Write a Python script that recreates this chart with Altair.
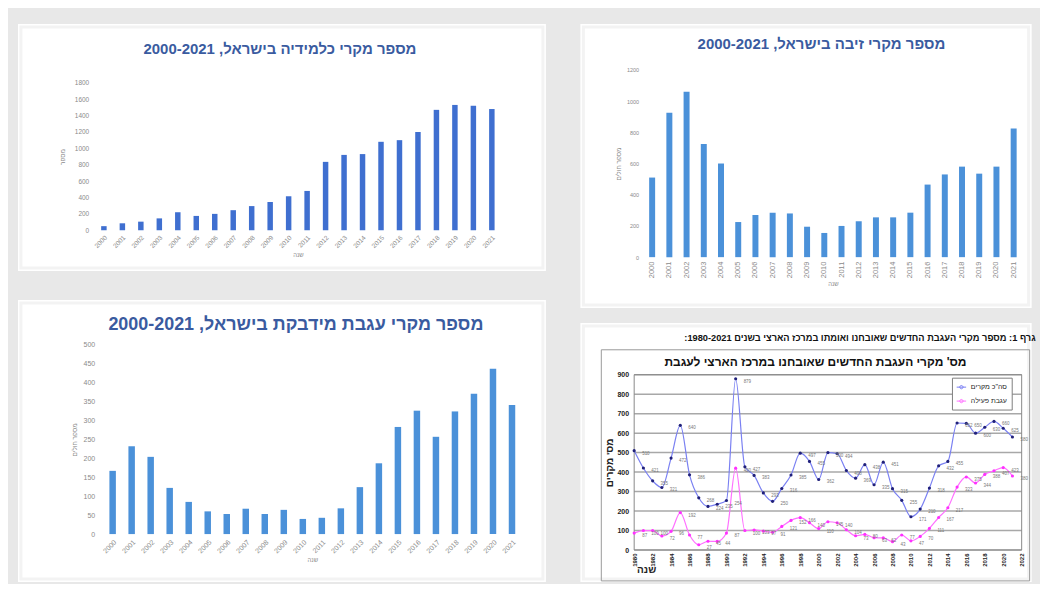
import altair as alt
import pandas as pd

FONT = "Liberation Sans"
RLE, PDF = "\u202B", "\u202C"

# ---------------- data ----------------
years = [str(y) for y in range(2000, 2022)]
chlamydia_cases = [50, 85, 105, 145, 220, 175, 200, 245, 295, 345, 415, 480,
                   835, 920, 930, 1080, 1100, 1200, 1470, 1530, 1520, 1480]
gonorrhea_cases = [510, 925, 1060, 725, 600, 225, 270, 285, 280, 195, 155, 200,
                   230, 255, 255, 285, 465, 530, 580, 535, 580, 825]
syphilis_cases = [167, 232, 204, 122, 85, 60, 53, 67, 53, 64, 40, 43,
                  68, 124, 187, 283, 326, 257, 324, 371, 437, 341]

line_years = list(range(1980, 2022))
total_cases = [510, 421, 355, 321, 472, 640, 386, 268, 224, 235,
               254, 879, 427, 383, 293, 250, 316, 385, 497, 455,
               362, 500, 494, 408, 369, 438, 335, 451, 315, 255,
               171, 210, 318, 432, 455, 652, 650, 600, 630, 660, 625, 580]
active_syphilis = [87, 100, 100, 72, 96, 192, 77, 27, 45, 44,
                   87, 420, 100, 103, 97, 91, 121, 152, 166, 140,
                   110, 145, 140, 104, 73, 80, 63, 62, 43, 77,
                   47, 70, 111, 167, 217, 323, 375, 344, 388, 407, 423, 380]
line_series = ['סה"כ מקרים', "עגבת פעילה"]
line_ticks_y = list(range(0, 1000, 100))
line_ticks_x = list(range(1980, 2023, 2))

title_chlamydia = "מספר מקרי כלמידיה בישראל, 2000-2021"
title_gonorrhea = "מספר מקרי זיבה בישראל, 2000-2021"
title_syphilis = "מספר מקרי עגבת מידבקת בישראל, 2000-2021"
title_line = "מס' מקרי העגבת החדשים שאובחנו במרכז הארצי לעגבת"
caption_line = "גרף 1: מספר מקרי העגבת החדשים שאובחנו ואומתו במרכז הארצי בשנים 1980-2021:"

one = pd.DataFrame({"k": [0]})


def background(o, rect):
    gx, gy = o
    x0, y0, x1, y1 = rect
    bg = alt.Chart(one).mark_rect(fill="white").encode(
        x=alt.value(x0 - gx), x2=alt.value(x1 - gx), y=alt.value(y0 - gy), y2=alt.value(y1 - gy))
    inner = alt.Chart(one).mark_rect(fillOpacity=0, stroke="#f3f3f3", strokeWidth=3).encode(
        x=alt.value(x0 - gx + 3), x2=alt.value(x1 - gx - 3),
        y=alt.value(y0 - gy + 3), y2=alt.value(y1 - gy - 3))
    return [bg, inner]


def text_mark(o, text, x, y, size, color, weight="bold", align="center"):
    return alt.Chart(one).mark_text(
        font=FONT, fontSize=size, fontWeight=weight, color=color, align=align,
        baseline="middle").encode(x=alt.value(x - o[0]), y=alt.value(y - o[1]),
                                  text=alt.value(RLE + text + PDF))


def bar_panel(values, o, size, band, yspan, rect, ymax, ystep, color, bar_w, label_angle,
              xlab_size, ylab_size, ytitle, ylabpad, ytitlepad, title, tpos, tsize, xtitlepad):
    gx, gy = o
    gw, gh = size
    df = pd.DataFrame({"year": years, "cases": values})
    step = (band[1] - band[0]) / len(years)
    pi = 1 - bar_w / step
    bars = alt.Chart(df).mark_bar(color=color).encode(
        x=alt.X("year:O",
                scale=alt.Scale(paddingInner=pi, paddingOuter=pi / 2,
                                range=[band[0] - gx, band[1] - gx]),
                axis=alt.Axis(labelAngle=label_angle, domain=False, ticks=False, grid=False,
                              labelFont=FONT, labelFontSize=xlab_size, labelColor="#8a8a8a",
                              labelPadding=4, title="שנה", titleFont=FONT, titleFontSize=6,
                              titleFontWeight="normal", titleColor="#8a8a8a",
                              titlePadding=xtitlepad, zindex=1)),
        y=alt.Y("cases:Q",
                scale=alt.Scale(domain=[0, ymax], nice=False,
                                range=[yspan[0] - gy, yspan[1] - gy]),
                axis=alt.Axis(values=list(range(0, ymax + 1, ystep)), format="d", domain=False,
                              ticks=False, grid=False, labelFont=FONT, labelFontSize=ylab_size,
                              labelColor="#8a8a8a", labelPadding=ylabpad, title=ytitle,
                              titleFont=FONT, titleFontSize=6.5, titleFontWeight="normal",
                              titleColor="#8a8a8a", titlePadding=ytitlepad, zindex=1)),
    )
    ttl = text_mark(o, title, tpos[0], tpos[1], tsize, "#3a5ba0")
    return alt.layer(*background(o, rect), bars, ttl).properties(width=gw, height=gh)


# geometry in page pixels: group origin, group size, band range, y range, panel rect
tl = bar_panel(chlamydia_cases, (94, 68), (408, 161), (94, 502), (229, 81), (17, 22, 547, 270),
               1800, 200, "#3f6fd0", 5.5, -45, 6.5, 6.5, "מספר", 6, 9,
               title_chlamydia, (280, 47), 15, 3)
bl = bar_panel(syphilis_cases, (94, 342), (428.5, 190), (102.5, 522.5), (532, 342),
               (17, 297, 547, 580), 500, 50, "#4b91d9", 6.5, -45, 7, 7, "מספר חולים", 0, 6,
               title_syphilis, (296, 322), 18, 3)
tr = bar_panel(gonorrhea_cases, (643.4, 68), (380.2, 188), (643.4, 1023.6), (256, 68),
               (580, 22, 1033, 307), 1200, 200, "#4b91d9", 6, -90, 7.5, 5.5, "מספר חולים", 5, 5,
               title_gonorrhea, (822, 42), 15, 3)

# ---------------- line chart panel ----------------
O = (643.4, 372)
LW, LH = 1023 - O[0], 176
n = len(line_years)
line_df = pd.DataFrame({
    "year": line_years * 2,
    "value": total_cases + active_syphilis,
    "series": [line_series[0]] * n + [line_series[1]] * n,
})
grid_df = pd.DataFrame({"value": line_ticks_y})
x_left = 634 - O[0]

X = alt.X("year:Q", scale=alt.Scale(domain=[1980, 2022], nice=False, zero=False,
                                    range=[x_left, LW]),
          axis=alt.Axis(values=line_ticks_x, format="d", labelAngle=-90, labelFont=FONT,
                        labelFontSize=6, labelFontWeight="bold", labelColor="#222",
                        domain=False, ticks=False, grid=False, labelPadding=3,
                        title="שנה", titleFont=FONT, titleFontSize=10, titleFontWeight="bold",
                        titleColor="#222", titleX=646 - O[0], titleY=20, titleAlign="center",
                        titleBaseline="middle", zindex=1))
Y = alt.Y("value:Q", scale=alt.Scale(domain=[0, 900], nice=False),
          axis=alt.Axis(values=line_ticks_y, labelFont=FONT, labelFontSize=7,
                        labelFontWeight="bold", labelColor="#222", domain=False, ticks=False,
                        grid=False, labelPadding=15, title="מס' מקרים", titleFont=FONT,
                        titleFontSize=10, titleFontWeight="bold", titleColor="#222",
                        titlePadding=2, zindex=1))

frame = alt.Chart(one).mark_rect(fillOpacity=0, stroke="#9a9a9a", strokeWidth=1).encode(
    x=alt.value(601 - O[0]), x2=alt.value(1031 - O[0]), y=alt.value(347 - O[1]),
    y2=alt.value(579 - O[1]))
grid = alt.Chart(grid_df).mark_rule(color="#a8a8a8", strokeWidth=1.5).encode(
    y=Y, x=alt.value(x_left), x2=alt.value(LW))
border = alt.Chart(one).mark_rect(fillOpacity=0, stroke="#8a8a8a", strokeWidth=1).encode(
    x=alt.value(x_left), x2=alt.value(LW), y=alt.value(0), y2=alt.value(LH))
sym = "M-1,0L1,0M-0.35,0A0.35,0.35,0,1,1,0.35,0A0.35,0.35,0,1,1,-0.35,0Z"
lines = alt.Chart(line_df).mark_line(interpolate="monotone", strokeWidth=1.2).encode(
    x=X, y=Y,
    color=alt.Color("series:N", scale=alt.Scale(domain=line_series, range=["#7a80f2", "#ff70ff"]),
                    legend=alt.Legend(orient="none", legendX=953 - O[0], legendY=3, title=None,
                                      fillColor="white", strokeColor="#808080", padding=4,
                                      labelFont=FONT, labelFontSize=7, labelColor="#222",
                                      symbolType=sym, symbolSize=90, symbolStrokeWidth=1,
                                      rowPadding=4, zindex=2)))
points = alt.Chart(line_df).mark_circle(size=10, opacity=1).encode(
    x=X, y=Y,
    color=alt.Color("series:N", scale=alt.Scale(domain=line_series, range=["#20207a", "#ff30ff"]),
                    legend=None))
labels = alt.Chart(line_df).mark_text(font=FONT, fontSize=4.5, dx=8, dy=3, color="#777",
                                      align="left").encode(x=X, y=Y, text="value:Q")

br = alt.layer(
    *background(O, (580, 320, 1033, 580)), frame, grid, border, lines, points, labels,
    text_mark(O, title_line, 816, 359, 12, "#111"),
    text_mark(O, caption_line, 1037, 335, 9.3, "#111", align="right"),
).resolve_scale(color="independent").properties(width=LW, height=LH)

left_col = alt.concat(tl, bl, columns=1, align="none", bounds="full", spacing=27)
right_col = alt.concat(tr, br, columns=1, align="none", bounds="full", spacing=13)

chart = alt.concat(left_col, right_col, columns=2, align="none", bounds="full",
                   spacing=33).properties(
    padding={"left": 9, "top": 14, "right": 3, "bottom": 0},
    background="#e8e8e8",
).configure_view(stroke="transparent")

chart.save("out.html", embed_options={"renderer": "svg", "actions": False})
